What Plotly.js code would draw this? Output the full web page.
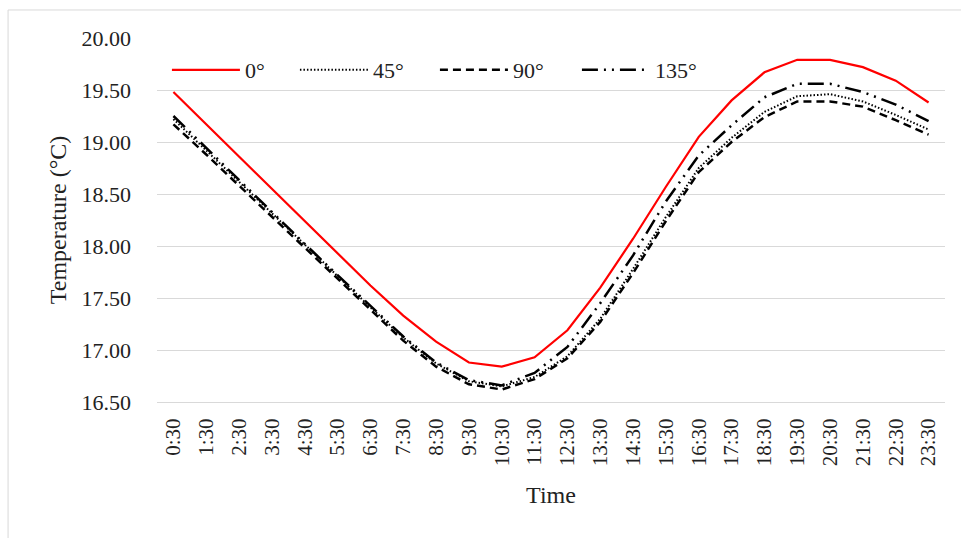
<!DOCTYPE html>
<html>
<head>
<meta charset="utf-8">
<script src="https://cdn.plot.ly/plotly-3.0.1.min.js"></script>
<style>
  html, body { margin: 0; padding: 0; background: #fff; }
  #chart { width: 961px; height: 538px; }
</style>
</head>
<body>
<div id="chart"></div>
<script>
const times = ["0:30","1:30","2:30","3:30","4:30","5:30","6:30","7:30","8:30","9:30","10:30","11:30",
  "12:30","13:30","14:30","15:30","16:30","17:30","18:30","19:30","20:30","21:30","22:30","23:30"];
const seriesNames = ["0°", "45°", "90°", "135°"];
const temp0 = [19.48,19.17,18.86,18.55,18.23,17.92,17.62,17.33,17.08,16.88,16.84,16.93,
  17.19,17.60,18.07,18.57,19.05,19.40,19.67,19.79,19.79,19.72,19.59,19.38];
const temp45 = [19.22,18.92,18.62,18.31,18.01,17.71,17.41,17.12,16.87,16.70,16.65,16.74,
  16.94,17.30,17.78,18.28,18.75,19.04,19.29,19.44,19.46,19.39,19.26,19.12];
const temp90 = [19.17,18.88,18.58,18.28,17.98,17.68,17.38,17.09,16.84,16.67,16.62,16.72,
  16.92,17.27,17.74,18.24,18.71,19.00,19.24,19.39,19.39,19.34,19.21,19.07];
const temp135 = [19.25,18.94,18.63,18.32,18.02,17.72,17.42,17.13,16.88,16.71,16.66,16.78,
  17.03,17.45,17.91,18.43,18.87,19.16,19.43,19.56,19.56,19.48,19.36,19.20];
const yTicks = [16.5, 17.0, 17.5, 18.0, 18.5, 19.0, 19.5, 20.0];

const FONT = "'Liberation Serif', 'DejaVu Serif', serif";
const TXT = "#222222";
const values = [temp0, temp45, temp90, temp135];
const styles = [
  {color: "#ff0000", width: 2.2, dash: "solid"},
  {color: "#000000", width: 2, dash: "1.5px,2px"},
  {color: "#000000", width: 2.5, dash: "8px,5px"},
  {color: "#000000", width: 2.5, dash: "16px,6px,2px,6px,2px,6px"}
];
const legendWidths = [45, 57, 59];

const traces = values.map((v, i) => ({
  type: "scatter",
  mode: "lines",
  x: times,
  y: v,
  name: seriesNames[i],
  line: styles[i],
  legendwidth: legendWidths[i]
}));

const layout = {
  width: 961, height: 538,
  margin: {l: 157, r: 16, t: 38, b: 136, pad: 0},
  paper_bgcolor: "#ffffff",
  plot_bgcolor: "#ffffff",
  font: {family: FONT, size: 21, color: TXT},
  showlegend: true,
  legend: {
    orientation: "h",
    x: 0.0126, xanchor: "left",
    y: 0.912, yanchor: "middle",
    itemwidth: 68,
    bgcolor: "rgba(0,0,0,0)",
    font: {family: FONT, size: 22, color: TXT},
    traceorder: "normal"
  },
  xaxis: {
    type: "category",
    range: [-0.5, 23.5],
    tickangle: -90,
    showgrid: false,
    showline: true,
    linecolor: "#d9d9d9",
    linewidth: 1,
    ticks: "",
    ticklabelstandoff: 7,
    tickfont: {family: FONT, size: 21, color: TXT},
    title: {text: "Time", font: {family: FONT, size: 24, color: TXT}, standoff: 20}
  },
  yaxis: {
    range: [16.5, 20.0],
    tickvals: yTicks,
    tickformat: ".2f",
    showgrid: true,
    gridcolor: "#d9d9d9",
    gridwidth: 1,
    zeroline: false,
    showline: false,
    ticks: "",
    ticklabelstandoff: 25,
    tickfont: {family: FONT, size: 22, color: TXT},
    title: {text: "Temperature (°C)", font: {family: FONT, size: 24, color: TXT}, standoff: 8}
  },
  shapes: [{
    type: "rect", xref: "paper", yref: "paper",
    x0: -0.189, x1: 1.03, y0: -0.4, y1: 1.077,
    line: {color: "#d9d9d9", width: 1},
    fillcolor: "rgba(0,0,0,0)",
    layer: "below"
  }]
};

Plotly.newPlot("chart", traces, layout, {displayModeBar: false, staticPlot: true});
</script>
</body>
</html>
